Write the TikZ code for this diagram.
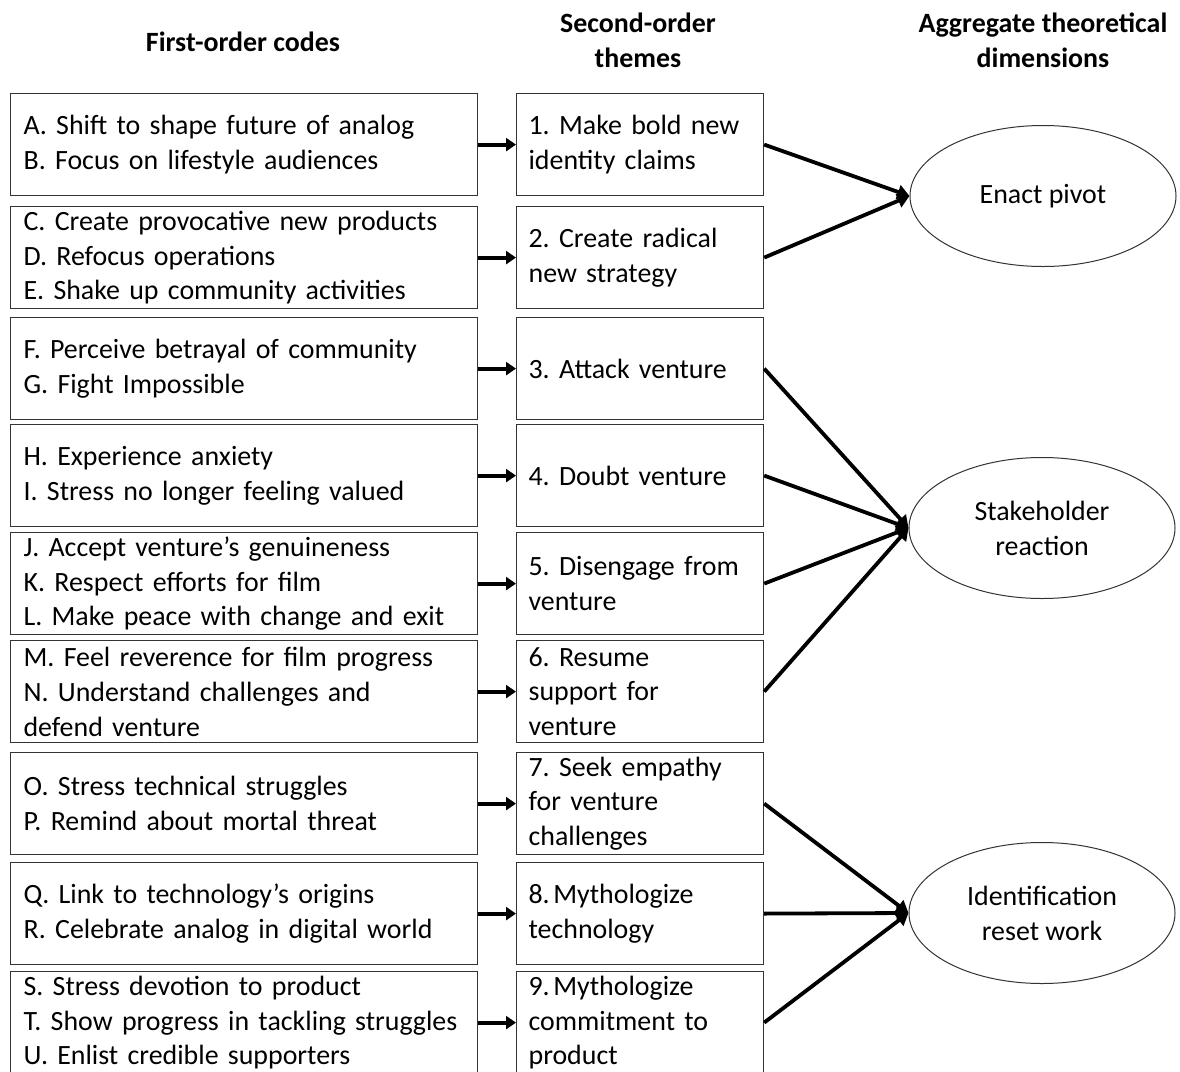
\documentclass[tikz,border=0pt]{standalone}
\usepackage{fontspec}
\setmainfont{Carlito}
\usetikzlibrary{arrows.meta,shapes.geometric}
\frenchspacing
\begin{document}
\frenchspacing
\begin{tikzpicture}[x=1bp,y=-1bp,
  codebox/.style={draw=black!80,line width=1.2bp,rectangle,minimum height=102bp,
    inner xsep=13bp,inner ysep=0bp,text width=441bp,align=left,anchor=north west,
    font=\frenchspacing\fontsize{28}{35}\selectfont},
  themebox/.style={draw=black!80,line width=1.2bp,rectangle,minimum height=102bp,
    inner xsep=12bp,inner ysep=0bp,text width=223bp,align=left,anchor=north west,
    font=\frenchspacing\fontsize{28}{35}\selectfont},
  dimell/.style={draw=black!80,line width=1bp,ellipse,minimum width=266bp,minimum height=141bp,
    inner sep=0bp,align=center,font=\fontsize{28}{35}\selectfont},
  header/.style={align=center,font=\bfseries\fontsize{28}{35}\selectfont},
  shortarr/.style={line width=3.8bp,-{Triangle[length=10bp,width=13bp]}},
  conn/.style={line width=3.8bp,-{Triangle[length=12bp,width=14bp]}}
]
\useasboundingbox (0,0) rectangle (1180,1072);
\fill[white] (0,0) rectangle (1180,1072);

% headers
\node[header] (h1) at (243,42) {First-order codes};
\node[header] (h2) at (638,40) {Second-order\\themes};
\node[header] (h3) at (1043,40) {Aggregate theoretical\\dimensions};

% first-order codes
\node[codebox] (c1) at (10,93) {A. Shift to shape future of analog\\B. Focus on lifestyle audiences};
\node[codebox] (c2) at (10,206) {C. Create provocative new products\\D. Refocus operations\\E. Shake up community activities};
\node[codebox] (c3) at (10,317) {F. Perceive betrayal of community\\G. Fight Impossible};
\node[codebox] (c4) at (10,424) {H. Experience anxiety\\I. Stress no longer feeling valued};
\node[codebox] (c5) at (10,532) {J. Accept venture’s genuineness\\K. Respect efforts for film\\L. Make peace with change and exit};
\node[codebox] (c6) at (10,640) {M. Feel reverence for film progress\\N. Understand challenges and\\defend venture};
\node[codebox] (c7) at (10,752) {O. Stress technical struggles\\P. Remind about mortal threat};
\node[codebox] (c8) at (10,862) {Q. Link to technology’s origins\\R. Celebrate analog in digital world};
\node[codebox] (c9) at (10,971) {S. Stress devotion to product\\T. Show progress in tackling struggles\\U. Enlist credible supporters};

% second-order themes
\node[themebox] (t1) at (516,93) {1. Make bold new\\identity claims};
\node[themebox] (t2) at (516,206) {2. Create radical\\new strategy};
\node[themebox] (t3) at (516,317) {3. Attack venture};
\node[themebox] (t4) at (516,424) {4. Doubt venture};
\node[themebox] (t5) at (516,532) {5. Disengage from\\venture};
\node[themebox] (t6) at (516,640) {6. Resume\\support for\\venture};
\node[themebox] (t7) at (516,752) {7. Seek empathy\\for venture\\challenges};
\node[themebox] (t8) at (516,862) {8.\kern3.5bp Mythologize\\technology};
\node[themebox] (t9) at (516,971) {9.\kern3.5bp Mythologize\\commitment to\\product};

% aggregate dimensions
\node[dimell] (d1) at (1043,196) {Enact pivot};
\node[dimell] (d2) at (1042,528) {Stakeholder\\reaction};
\node[dimell] (d3) at (1042,913) {Identification\\reset work};

% short arrows
\foreach \i in {1,...,9} {
  \draw[shortarr] (c\i.east) -- (t\i.west);
}

% converging connectors
\draw[conn] (t1.east) -- (d1.west);
\draw[conn] (t2.east) -- (d1.west);
\draw[conn] (t3.east) -- (d2.west);
\draw[conn] (t4.east) -- (d2.west);
\draw[conn] (t5.east) -- (d2.west);
\draw[conn] (t6.east) -- (d2.west);
\draw[conn] (t7.east) -- (d3.west);
\draw[conn] (t8.east) -- (d3.west);
\draw[conn] (t9.east) -- (d3.west);
\end{tikzpicture}
\end{document}
